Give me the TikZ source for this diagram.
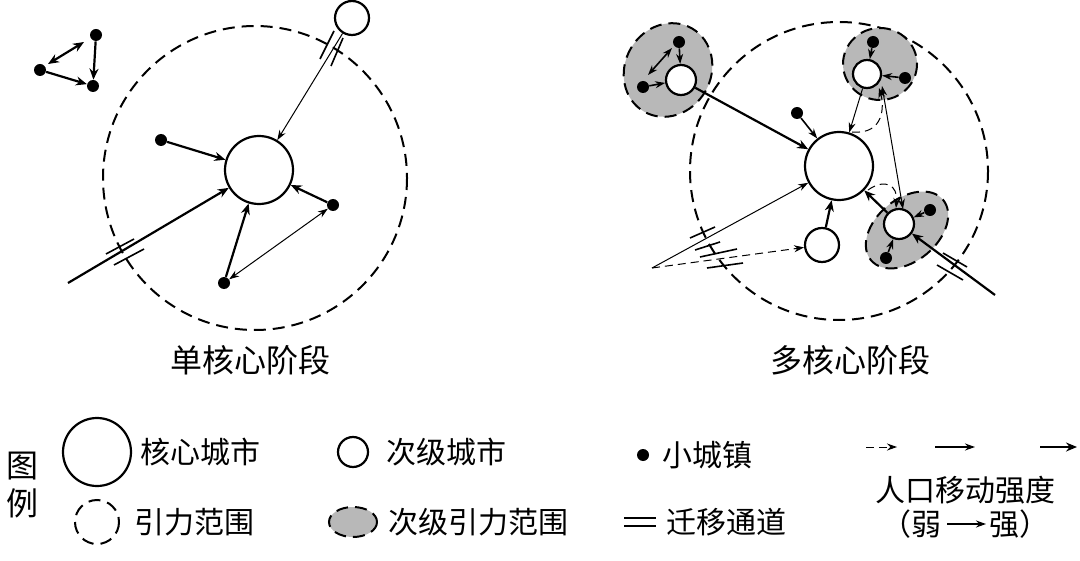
\documentclass[tikz,border=0pt]{standalone}
\usepackage{fontspec}
\setmainfont{Noto Sans CJK SC}
\usetikzlibrary{arrows.meta,calc}
\begin{document}
\begin{tikzpicture}[x=0.5pt,y=-0.5pt,
  core/.style={circle,draw,line width=1.1pt,minimum size=34pt,inner sep=0},
  sec/.style={circle,draw,line width=1.1pt,fill=white,minimum size=15pt,inner sep=0},
  dot/.style={circle,fill,minimum size=6pt,inner sep=0},
  rng/.style={draw,line width=1pt,dash pattern=on 6pt off 3.5pt},
  grayr/.style={rng,fill=black!28},
  thick arr/.style={-{Stealth[length=5.5pt,width=4.5pt]},line width=1.1pt},
  thin arr/.style={-{Stealth[length=5pt,width=3.5pt]},line width=0.5pt},
  dthin/.style={{Stealth[length=5pt,width=3.5pt]}-{Stealth[length=5pt,width=3.5pt]},line width=0.5pt},
  dthick/.style={{Stealth[length=5.5pt,width=4.5pt]}-{Stealth[length=5.5pt,width=4.5pt]},line width=1.1pt},
  dash arr/.style={thin arr,dash pattern=on 4pt off 2.5pt},
  ch/.style={line width=0.8pt},
  lbl/.style={font=\fontsize{15pt}{15pt}\selectfont,anchor=west,inner sep=0},
  ttl/.style={font=\fontsize{16pt}{16pt}\selectfont,inner sep=0}]
\useasboundingbox (0,0) rectangle (1080,561);
% ---------- left panel ----------
\draw[rng] (255,178) circle[radius=152];
\node[core] (c1) at (259,170) {};
\node[sec,minimum size=17pt] (s1) at (352,18) {};
\node[dot] (t1) at (96,35) {};
\node[dot] (t2) at (40,70) {};
\node[dot] (t3) at (93,86) {};
\draw[dthick] (84,42) -- (48,64);
\draw[thick arr] (t1) -- (t3);
\draw[thick arr] (t2) -- (t3);
\node[dot] (d1) at (161,140) {};
\node[dot] (d2) at (333,205) {};
\node[dot] (d3) at (224,283) {};
\coordinate (e1) at (68,283);
\draw[thick arr] (d1) -- (c1);
\draw[thick arr] (d2) -- (c1);
\draw[thick arr] (d3) -- (c1);
\draw[dthin] (d3) -- (d2);
\draw[thick arr] (e1) -- (c1);
\draw[ch] (106,254) -- (134,239) (114,265) -- (144,249);
\draw[thin arr] (s1) -- (c1);
\draw[ch] (334,31) -- (320,59) (343,38) -- (331,66);
\node[ttl] (t1l) at (250,360) {单核心阶段};
% ---------- right panel ----------
\draw[rng] (839,171) circle[radius=149];
\draw[grayr,rotate around={-30:(668,70)}] (668,70) ellipse[x radius=43,y radius=48];
\draw[grayr] (880,64) ellipse[x radius=37,y radius=36];
\draw[grayr,rotate around={40:(907,230)}] (907,230) ellipse[x radius=47,y radius=31];
\node[core] (c2) at (839,166) {};
\node[sec] (a) at (681,80) {};
\node[sec,minimum size=14pt] (b) at (867,74) {};
\node[sec] (c) at (899,224) {};
\node[sec,minimum size=17pt] (l) at (822,245) {};
\node[dot] (a1) at (679,42) {};
\node[dot] (a2) at (643,87) {};
\node[dot] (b1) at (873,42) {};
\node[dot] (b2) at (905,78) {};
\node[dot] (cc1) at (930,210) {};
\node[dot] (cc2) at (886,258) {};
\node[dot] (r1) at (797,113) {};
\coordinate (e2) at (995,295);
\coordinate (e3) at (652,268);
\draw[thin arr,line width=0.8pt] (a1) -- (a);
\draw[thin arr,line width=0.8pt] (a2) -- (a);
\draw[dthin,line width=0.8pt] (648,75) -- (672,48);
\draw[thin arr,line width=0.8pt] (b1) -- (b);
\draw[thin arr,line width=0.8pt] (b2) -- (b);
\draw[thin arr,line width=0.8pt] (cc1) -- (c);
\draw[thin arr,line width=0.8pt] (cc2) -- (c);
\draw[thick arr] (a) -- (c2);
\draw[thin arr,line width=0.8pt] (r1) -- (c2);
\draw[thin arr] (b) -- (c2);
\draw[dash arr] (852,132) .. controls (885,135) and (884,105) .. (879,88);
\draw[dthin] (882,86) -- (903,209);
\draw[thick arr] (c) -- (c2);
\draw[dash arr] (868,190) .. controls (885,178) and (898,185) .. (896,208);
\draw[thick arr] (l) -- (c2);
\draw[thick arr] (e2) -- (c);
\draw[ch] (943,253) -- (967,267) (937,265) -- (963,280);
\draw[thin arr] (e3) -- (c2);
\draw[dash arr] (e3) -- (l);
\draw[ch] (690,238) -- (715,227) (695,250) -- (720,242) (700,257) -- (737,249) (707,268) -- (743,263);
\node[ttl] (t2l) at (850,360) {多核心阶段};
% ---------- legend ----------
\node[ttl] (tu) at (22,466) {图};
\node[ttl] (li) at (22,503) {例};
\node[core] (lg1) at (97,452) {};
\node[lbl] (lt1) at (140,452) {核心城市};
\node[sec] (lg2) at (353,452) {};
\node[lbl] (lt2) at (386,452) {次级城市};
\node[dot] (lg3) at (643,455) {};
\node[lbl] (lt3) at (662,455) {小城镇};
\draw[rng] (97,522) circle[radius=22];
\node[lbl] (lt4) at (134,522) {引力范围};
\draw[grayr] (353,522) ellipse[x radius=24,y radius=15];
\node[lbl] (lt5) at (388,522) {次级引力范围};
\draw[ch] (624,518) -- (656,518) (624,526) -- (656,526);
\node[lbl] (lt6) at (666,522) {迁移通道};
\coordinate (p1) at (866,447); \coordinate (p2) at (897,447);
\coordinate (p3) at (935,447); \coordinate (p4) at (975,447);
\coordinate (p5) at (1040,447); \coordinate (p6) at (1077,447);
\draw[dash arr] (p1) -- (p2);
\draw[thin arr,line width=0.7pt] (p3) -- (p4);
\draw[thick arr] (p5) -- (p6);
\node[ttl,font=\fontsize{15pt}{15pt}\selectfont] (lt7) at (965,490) {人口移动强度};
\node[lbl,anchor=center] (lt8) at (965,524) {（弱\hspace{24pt}强）};
\coordinate (q1) at (947,524); \coordinate (q2) at (986,524);
\draw[thin arr,line width=0.7pt] (q1) -- (q2);
\end{tikzpicture}
\end{document}
